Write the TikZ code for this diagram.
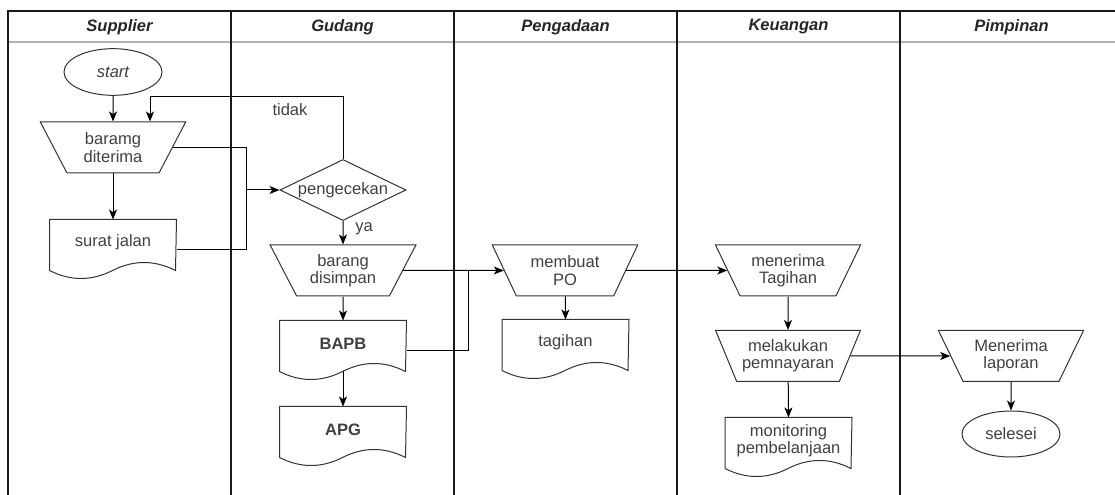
\documentclass[tikz,border=0pt]{standalone}
\usepackage{fontspec}
\setmainfont{Liberation Sans}
\usetikzlibrary{shapes.geometric,arrows.meta,calc}
\definecolor{lanecol}{HTML}{1A1A1A}
\definecolor{headcol}{HTML}{B3B3B3}
\definecolor{shapecol}{HTML}{333333}
\definecolor{txtcol}{HTML}{404040}
\tikzset{
  base/.style={draw=shapecol, line width=0.75pt, text=txtcol,
    font=\fontsize{12.4}{13}\selectfont, align=center, inner sep=0pt},
  terminal/.style={base, ellipse, minimum width=73.5pt, minimum height=35pt},
  manual/.style={base, trapezium, trapezium angle=120, trapezium stretches=true,
    minimum width=109.5pt, minimum height=38.25pt},
  decision/.style={base, diamond, minimum width=94.5pt, minimum height=45.75pt},
  docbox/.style={base, draw=none, rectangle, minimum width=94.5pt, minimum height=45pt},
  doctext/.style={text=txtcol, font=\fontsize{12.4}{13}\selectfont, align=center,
    inner sep=0pt, yshift=5.6pt},
  flow/.style={draw=black, line width=0.75pt, -{Stealth[length=7.5pt,width=6pt,inset=2pt]}},
  link/.style={draw=black, line width=0.75pt},
  lane/.style={draw=lanecol, line width=1pt},
  lanehead/.style={font=\fontsize{12.4}{13}\selectfont\bfseries\itshape, text=black!85, inner sep=0pt},
  tag/.style={text=txtcol, font=\fontsize{12.4}{13}\selectfont, inner sep=0pt}
}
% outline of a document symbol (box with a wavy bottom) around a docbox node
\newcommand\docoutline[1]{%
  \draw[draw=shapecol, line width=0.75pt]
    (#1.north west) -- (#1.north east) -- ($(#1.north west)+(126,51)$)
    .. controls ($(#1.north west)+(105,40.33)$) and ($(#1.north west)+(84,40.33)$)
    .. ($(#1.north west)+(63,51)$)
    .. controls ($(#1.north west)+(42,61.67)$) and ($(#1.north west)+(21,61.67)$)
    .. ($(#1.north west)+(0,51)$) -- cycle;}
\begin{document}
\begin{tikzpicture}[x=0.75pt, y=-0.75pt]
\useasboundingbox (0,0) rectangle (1115,495);

% swimlanes
\draw[draw=headcol, line width=1pt] (8,42) -- (1125,42);
\draw[lane] (8,495) -- (8,11) -- (1125,11);
\foreach \lx in {231,454,677,900} \draw[lane] (\lx,11) -- (\lx,495);
\node[lanehead] (hsup) at (119.5,27) {Supplier};
\node[lanehead] (hgud) at (342.5,27) {Gudang};
\node[lanehead] (hpen) at (565.5,27) {Pengadaan};
\node[lanehead] (hkeu) at (788.5,27) {Keuangan};
\node[lanehead] (hpim) at (1011.5,27) {Pimpinan};

% Supplier
\node[terminal] (start) at (113,72) {\itshape start};
\node[manual] (baramg) at (113,147.5) {baramg\\diterima};
\node[docbox, label={[doctext]center:surat jalan}] (sj) at (113,250) {};
\docoutline{sj}

% Gudang
\node[decision, label={[tag]center:pengecekan}] (chk) at (343,190) {};
\node[manual] (bds) at (343,270.5) {barang\\disimpan};
\node[docbox, label={[doctext]center:\bfseries BAPB}] (bapb) at (343,351) {};
\docoutline{bapb}
\node[docbox, label={[doctext]center:\bfseries APG}] (apg) at (343,437) {};
\docoutline{apg}
\node[tag] (tidak) at (290,110) {tidak};
\node[tag] (ya) at (364,229) {ya};

% Pengadaan
\node[manual] (po) at (565,270.5) {membuat\\PO};
\node[docbox, label={[doctext]center:tagihan}] (tgh) at (565.5,350) {};
\docoutline{tgh}

% Keuangan
\node[manual] (mt) at (788,270.5) {menerima\\Tagihan};
\node[manual] (mp) at (788,356) {melakukan\\pemnayaran};
\node[docbox, label={[doctext]center:monitoring\\pembelanjaan}] (mon) at (788.5,448) {};
\docoutline{mon}

% Pimpinan
\node[manual] (ml) at (1011,356) {Menerima\\laporan};
\node[terminal, minimum height=34.5pt] (sel) at (1011,434) {selesei};

% junction points
\coordinate (jsj) at (246,250);
\coordinate (jmid) at (246,190);
\coordinate (loopc) at (150,97);
\coordinate (jpo) at (468,270.5);

% connectors
\draw[flow] (start) -- (baramg);
\draw[flow] (baramg) -- (sj.north);
\draw[link] (baramg.east) -| (jsj);
\draw[link] (sj.east) -- (jsj);
\draw[flow] (jmid) -- (chk.west);
\draw[flow] (chk.north) |- (loopc) -- (loopc |- baramg.north);
\draw[flow] (chk.south) -- (bds.north);
\draw[flow] (bds) -- (bapb.north);
\draw[flow] ($(bapb.north)+(0,51)$) -- (apg.north);
\draw[flow] (bds) -- (po);
\draw[link] (bapb.east) -| (jpo);
\draw[flow] (po) -- (tgh.north);
\draw[flow] (po) -- (mt);
\draw[flow] (mt) -- (mp);
\draw[flow] (mp) -- (mon.north);
\draw[flow] (mp) -- (ml);
\draw[flow] (ml) -- (sel);
\end{tikzpicture}
\end{document}
